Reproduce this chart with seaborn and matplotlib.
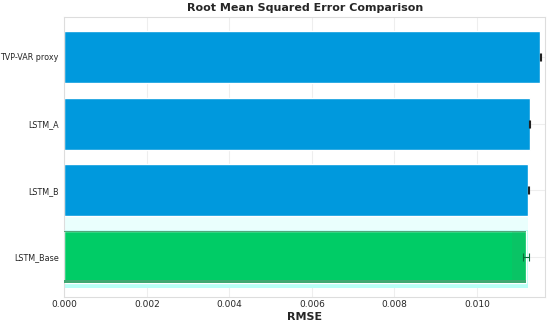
import numpy as np
import matplotlib.pyplot as plt
import seaborn as sns
import pandas as pd
from matplotlib.patches import Rectangle

models = ["TVP-VAR proxy", "LSTM_A", "LSTM_B", "LSTM_Base"]
rmse = [0.01153, 0.01128, 0.01124, 0.01119]
rmse_err = [0.00001, 0.00001, 0.00001, 0.00007]
best = "LSTM_Base"

blue = "#0099dd"
green = "#00cc66"

sns.set_style("whitegrid")
plt.rcParams["font.family"] = ["DejaVu Sans"]

df = pd.DataFrame({"model": models, "rmse": rmse})
palette = [green if m == best else blue for m in models]

fig, ax = plt.subplots(figsize=(5.5, 3.24), dpi=100)
fig.subplots_adjust(left=0.117, right=0.991, top=0.948, bottom=0.083)

bi = models.index(best)
# soft glow behind the best model
ax.add_patch(Rectangle((0, bi - 0.61), rmse[bi] + 0.00004, 1.07,
                       color="#eafffd", zorder=1, lw=0))
ax.add_patch(Rectangle((0, bi - 0.4), rmse[bi] + 0.00004, 0.86,
                       color="#b8fff6", zorder=1, lw=0))

sns.barplot(data=df, x="rmse", y="model", hue="model", palette=palette,
            order=models, width=0.78, legend=False, ax=ax, zorder=2,
            errorbar=None, saturation=1)

# darker edge / tail on the best bar
ax.add_patch(Rectangle((0, bi + 0.345), rmse[bi], 0.045, color="#3fa872",
                       zorder=3, lw=0))
ax.add_patch(Rectangle((0, bi - 0.39), rmse[bi], 0.015, color="#55a57a",
                       zorder=3, lw=0))
ax.add_patch(Rectangle((rmse[bi] - 0.00034, bi - 0.375), 0.00034, 0.72,
                       color="#2aa862", alpha=0.22, zorder=3, lw=0))

for i, (v, e) in enumerate(zip(rmse, rmse_err)):
    c = "#0b6b3a" if models[i] == best else "#222222"
    ax.errorbar(v, i, xerr=e, fmt="none", ecolor=c, elinewidth=0.8,
                capsize=3, capthick=0.8, zorder=4)

ax.set_xlim(0, 0.01165)
ax.set_ylim(3.6, -0.6)
ticks = np.arange(0, 0.0101, 0.002)
ax.set_xticks(ticks)
ax.set_xticklabels([f"{t:.3f}" for t in ticks])
ax.tick_params(axis="x", labelsize=6.5, pad=2, length=0)
ax.tick_params(axis="y", labelsize=5.8, pad=4, length=0)
ax.set_ylabel("")
ax.set_xlabel("RMSE", fontsize=8, fontweight="bold", labelpad=2)
ax.set_title("Root Mean Squared Error Comparison", fontsize=8,
             fontweight="bold", pad=4)
ax.grid(color="#eeeeee", linewidth=0.8)
for s in ax.spines.values():
    s.set_color("#dddddd")

fig.savefig("out.png", dpi=100)
